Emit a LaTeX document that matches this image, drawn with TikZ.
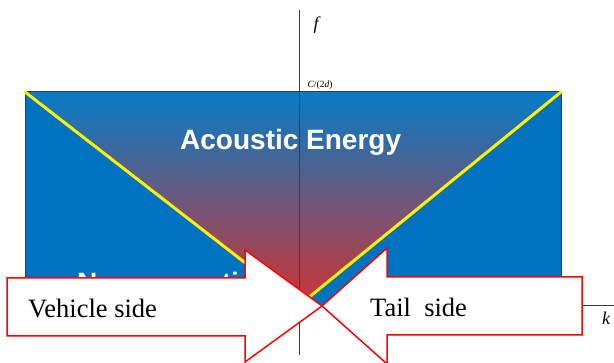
\documentclass[tikz,border=0pt]{standalone}
\usepackage{fontspec}
\setmainfont{Liberation Serif}
\newfontfamily\arialfont{Liberation Sans}
\definecolor{plotblue}{RGB}{0,114,192}
\definecolor{gradtop}{RGB}{5,124,198}
\definecolor{gradbot}{RGB}{208,52,52}
\definecolor{axisgray}{RGB}{60,60,60}
\begin{document}
\begin{tikzpicture}[x=1pt,y=-1pt,
  vline/.style={draw=yellow, line width=3pt, line cap=round},
  axis/.style={draw=axisgray, line width=0.8pt},
  arrowbox/.style={draw=red, line width=1.5pt, fill=white, line join=miter},
  bigtext/.style={text=white, font=\arialfont\bfseries\fontsize{28}{30}\selectfont, inner sep=0pt, anchor=base west},
  sidetext/.style={font=\fontsize{26.5}{28}\selectfont, inner sep=0pt, anchor=base west},
  axlabel/.style={font=\itshape\fontsize{18}{20}\selectfont, inner sep=0pt}
]
\useasboundingbox (0,0) rectangle (614,363);
\fill[white] (0,0) rectangle (614,363);
% plot area
\coordinate (TL) at (25,92);
\coordinate (TR) at (561,92);
\coordinate (BL) at (25,305);
\coordinate (BR) at (561,305);
\coordinate (O) at (299.5,305);
\fill[plotblue] (TL) rectangle (BR);
\shade[top color=gradtop, bottom color=gradbot] (TL) -- (TR) -- (O) -- cycle;
\draw[axisgray, line width=1pt] (BL) -- (TL) -- (TR) -- (BR);
\draw[vline] (TL) -- (O);
\draw[vline] (TR) -- (O);
\node[bigtext] (ae) at (180,150) {Acoustic Energy};
\node[bigtext] (nae) at (77,293) {Non-acoustic};
% axes
\coordinate (ftop) at (299.5,10);
\coordinate (fbot) at (299.5,355);
\coordinate (kend) at (614,305);
\draw[axis] (fbot) -- (ftop);
\draw[axis] (BL) -- (kend);
% arrows
\coordinate (tip) at (322,306);
\draw[arrowbox] (7,278) -- (245,278) -- (245,250) -- (tip) -- (245,362) -- (245,336) -- (7,336) -- cycle;
\draw[arrowbox] (582,277) -- (387,277) -- (387,248) -- (tip) -- (387,364) -- (387,335) -- (582,335) -- cycle;
\node[sidetext] (veh) at (28,318) {Vehicle side};
\node[sidetext] (tail) at (370,317) {Tail\ \ side};
% labels
\node[axlabel] (flab) at (316,25) {f};
\node[font=\fontsize{9.5}{11}\selectfont, inner sep=0pt] (clab) at (320,85) {\itshape C\/\upshape/(2\itshape d\/\upshape)};
\node[axlabel] (klab) at (606,318) {k};
\end{tikzpicture}
\end{document}
